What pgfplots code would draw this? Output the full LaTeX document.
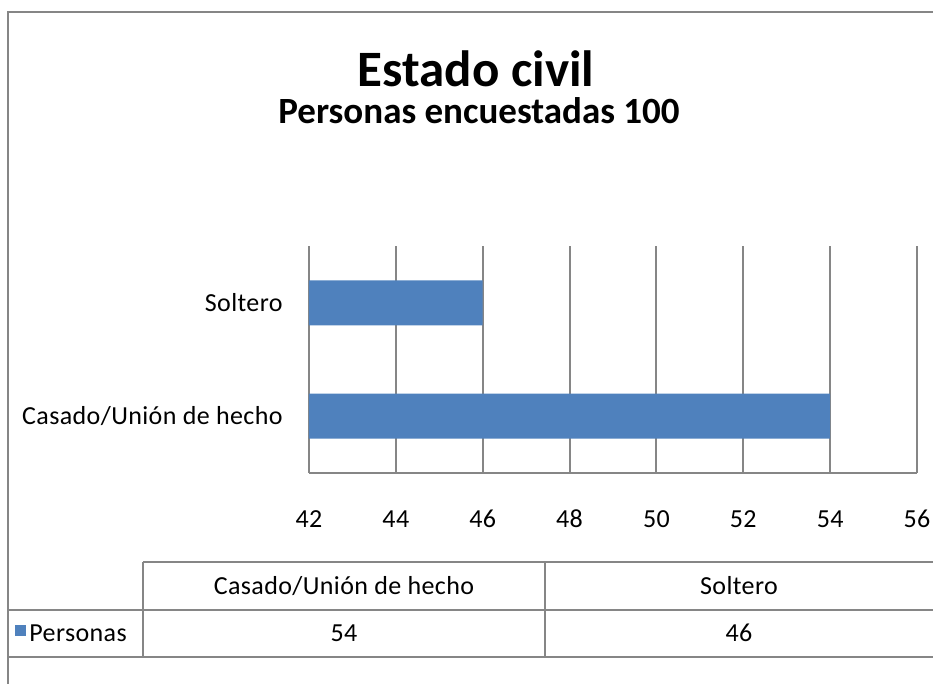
\documentclass[border=0pt]{standalone}
\usepackage{pgfplots}
\pgfplotsset{compat=1.18}
\usepackage{fontspec}
\setmainfont{Carlito}
\newfontfamily\lblfont{Carlito}[LetterSpace=1.5]
\definecolor{barblue}{RGB}{79,129,189}
\definecolor{linegray}{RGB}{134,134,134}

\begin{document}
\begin{tikzpicture}
\path[use as bounding box] (0,0) rectangle (466.5pt,-342pt);
\clip (0,0) rectangle (466.5pt,-342pt);
\begin{scope}[x=0.5pt,y=-0.5pt]
  % chart frame
  \draw[linegray, line width=1pt] (8,684) -- (8,12) -- (933,12);
  \node[font=\fontsize{25.5}{30}\selectfont\bfseries] at (476,69) {Estado civil};
  \node[font=\fontsize{18.5}{22}\selectfont\bfseries] at (479,111) {Personas encuestadas 100};
  % data table under the chart
  \draw[linegray, line width=1pt]
    (143,562) -- (933,562) (8,610) -- (933,610) (8,657) -- (933,657)
    (143,562) -- (143,657) (545,562) -- (545,657) (8,610) -- (8,657);
  \begin{scope}[font=\fontsize{13}{15}\lblfont]
    \node[anchor=base] at (344,595) {Casado/Unión de hecho};
    \node[anchor=base] at (739,595) {Soltero};
    \fill[barblue] (15,625) rectangle (26,636);
    \node[anchor=base west, inner sep=0pt] at (29,641) {Personas};
    \node[anchor=base] at (344,641) {54};
    \node[anchor=base] at (739,641) {46};
  \end{scope}
\end{scope}
\begin{axis}[
  at={(154.5pt,-236.5pt)}, anchor=south west,
  scale only axis, width=304pt, height=113.5pt,
  xbar, bar width=22.5pt, bar shift=0pt,
  xmin=42, xmax=56, xtick={42,44,...,56},
  ymin=-0.5, ymax=1.5, ytick={0,1},
  yticklabels={Casado/Unión de hecho, Soltero},
  axis x line*=bottom, axis y line*=left,
  axis line style={linegray, line width=1pt, -},
  xmajorgrids, major grid style={linegray, line width=1pt},
  major tick length=0pt,
  tick label style={font=\fontsize{13}{15}\lblfont},
  /pgf/number format/assume math mode=true,
  xticklabel style={anchor=base, yshift=-27.5pt},
  yticklabel style={anchor=east, inner sep=0pt, xshift=-13pt},
]
\addplot[fill=barblue, draw=none] coordinates {(54,0) (46,1)};
\end{axis}
\end{tikzpicture}
\end{document}
